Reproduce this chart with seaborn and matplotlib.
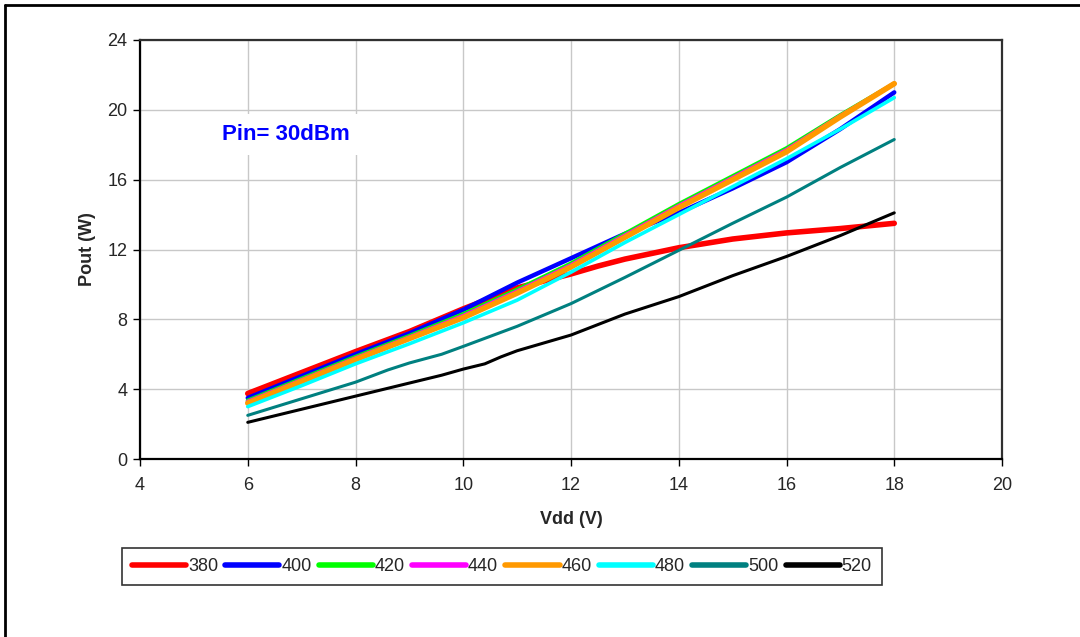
import matplotlib
matplotlib.use("Agg")
import matplotlib.pyplot as plt
from matplotlib.lines import Line2D
import pandas as pd
import seaborn as sns

# Tensão de alimentação (V) e potência de saída (W) por frequência (MHz)
vdd = [6, 7, 8, 9, 10, 11, 12, 13, 14, 15, 16, 17, 18]
vdd_380 = [6, 7, 8, 9, 10, 11, 11.5, 12, 12.5, 13, 14, 15, 16, 17, 18]
vdd_500 = [6, 7, 8, 8.6, 9, 9.6, 10, 11, 12, 13, 14, 15, 16, 17, 18]
vdd_520 = [6, 7, 8, 9, 9.6, 10, 10.4, 10.7, 11, 12, 13, 14, 15, 16, 17, 18]

pout_380 = [3.75, 4.95, 6.15, 7.3, 8.6, 9.8, 10.2, 10.6, 11.05, 11.45, 12.1, 12.6, 12.95, 13.2, 13.5]
pout_400 = [3.5, 4.75, 6.0, 7.2, 8.55, 10.1, 11.5, 12.9, 14.1, 15.5, 17.0, 18.9, 21.0]
pout_420 = [3.35, 4.6, 5.85, 7.05, 8.3, 9.7, 11.2, 12.9, 14.6, 16.2, 17.8, 19.7, 21.5]
pout_440 = [3.28, 4.52, 5.77, 6.97, 8.2, 9.6, 11.1, 12.8, 14.5, 16.1, 17.7, 19.65, 21.5]
pout_460 = [3.2, 4.45, 5.7, 6.9, 8.1, 9.5, 11.0, 12.7, 14.4, 16.0, 17.6, 19.6, 21.5]
pout_480 = [3.0, 4.2, 5.45, 6.6, 7.8, 9.1, 10.7, 12.4, 14.0, 15.6, 17.2, 18.9, 20.7]
pout_500 = [2.5, 3.45, 4.4, 5.1, 5.5, 6.0, 6.45, 7.6, 8.9, 10.4, 11.95, 13.5, 15.0, 16.7, 18.3]
pout_520 = [2.1, 2.85, 3.6, 4.35, 4.8, 5.15, 5.45, 5.85, 6.2, 7.1, 8.3, 9.3, 10.5, 11.6, 12.8, 14.1]

freqs = ["380", "400", "420", "440", "460", "480", "500", "520"]
colors = ["#ff0000", "#0000ff", "#00ff00", "#ff00ff", "#ff9900", "#00ffff", "#008080", "#000000"]
widths = [4.0, 3.2, 3.0, 3.0, 4.0, 2.6, 2.2, 2.2]

series = [
    (vdd_380, pout_380), (vdd, pout_400), (vdd, pout_420), (vdd, pout_440),
    (vdd, pout_460), (vdd, pout_480), (vdd_500, pout_500), (vdd_520, pout_520),
]

sns.set_style("white")
plt.rcParams["font.family"] = ["Liberation Sans", "DejaVu Sans"]

fig = plt.figure(figsize=(10.8, 6.37), dpi=100)
ax = fig.add_axes([140 / 1080, 1 - 459 / 637, 862 / 1080, 419 / 637])

for f, c, w, (x, y) in zip(freqs, colors, widths, series):
    df = pd.DataFrame({"Vdd": x, "Pout": y})
    sns.lineplot(data=df, x="Vdd", y="Pout", ax=ax, color=c, lw=w, label=f)

ax.set_xlim(4, 20)
ax.set_ylim(0, 24)
ax.set_xticks(range(4, 21, 2))
ax.set_yticks(range(0, 25, 4))
ax.grid(True, color="#c8c8c8", lw=1)
ax.set_axisbelow(True)
ax.tick_params(axis="both", labelsize=13, length=5, width=1, direction="out", color="black")
ax.tick_params(axis="x", bottom=True, pad=8)
ax.tick_params(axis="y", left=True, pad=4)

for s in ["left", "bottom"]:
    ax.spines[s].set_color("black")
    ax.spines[s].set_linewidth(1.6)
for s in ["top", "right"]:
    ax.spines[s].set_color("#303030")
    ax.spines[s].set_linewidth(1.6)

ax.set_xlabel("Vdd (V)", fontsize=13, fontweight="bold", labelpad=12)
ax.set_ylabel("Pout (W)", fontsize=13, fontweight="bold", labelpad=8)

ax.text(6.7, 18.6, "Pin= 30dBm", color="#0000ff", fontsize=16, fontweight="bold",
        ha="center", va="center", bbox=dict(facecolor="white", edgecolor="none", pad=7))

leg = ax.legend(loc="upper left", bbox_to_anchor=(122 / 1080, 1 - 548 / 637),
                bbox_transform=fig.transFigure, ncol=8, fontsize=13, frameon=True,
                fancybox=False, edgecolor="black", handlelength=3.0, handletextpad=0.1,
                columnspacing=0.4, borderpad=0.55, borderaxespad=0)
leg.get_frame().set_linewidth(1.2)
for h in leg.get_lines():
    h.set_linewidth(4)

# moldura externa
fig.add_artist(Line2D([5 / 1080, 1.0], [1 - 5 / 637, 1 - 5 / 637], color="black", lw=2,
                      transform=fig.transFigure))
fig.add_artist(Line2D([5 / 1080, 5 / 1080], [1 - 5 / 637, 0], color="black", lw=2,
                      transform=fig.transFigure))

plt.savefig("out.png", dpi=100)
plt.close()
